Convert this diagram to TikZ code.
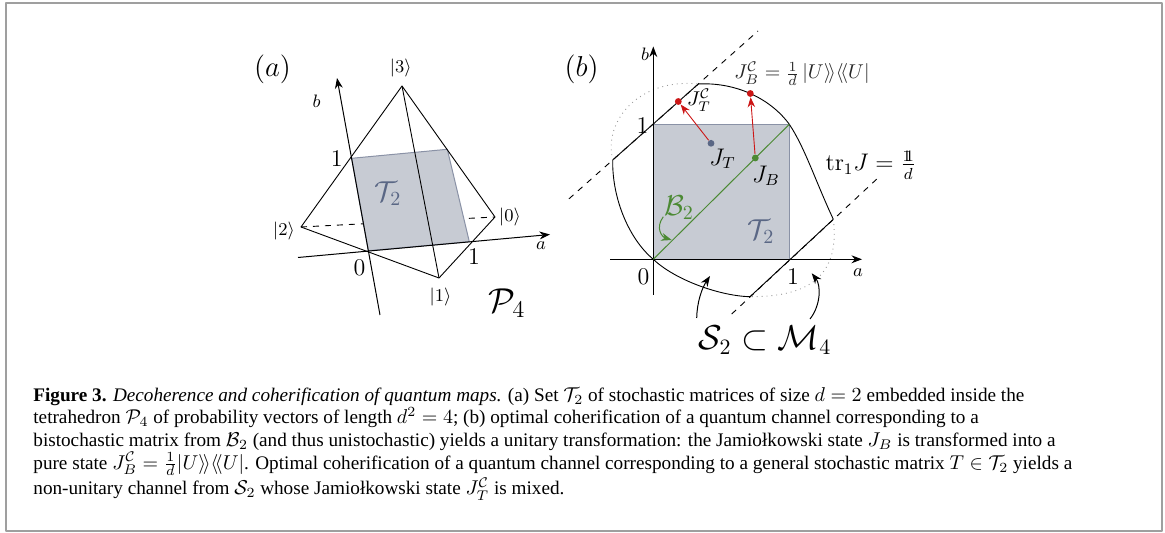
\documentclass[tikz,border=0pt]{standalone}
\usepackage{amsmath,amssymb}
\usepackage{fontspec}
\newfontfamily\capfont{Liberation Serif}
\usepackage{tikz}
\usetikzlibrary{arrows.meta}
\definecolor{sqfill}{HTML}{C7CBD3}
\definecolor{sqedge}{HTML}{8A92A6}
\definecolor{slate}{HTML}{5A6785}
\definecolor{leaf}{HTML}{4C8A34}
\definecolor{cherry}{HTML}{CC1616}
\newcommand{\idty}{\mathrm{1\!\!1}}

\begin{document}
\begin{tikzpicture}[x=0.5pt,y=-0.5pt,>=Stealth,line join=round,
  thinline/.style={line width=0.45pt},
  axisline/.style={->,line width=0.5pt},
  dotnode/.style={circle,fill=#1,inner sep=0pt,minimum size=3.4pt},
  ket/.style={font=\small,inner sep=1pt},
  num/.style={font=\large,inner sep=1pt}]
  \useasboundingbox (0,0) rectangle (1165,533);
  \draw[gray!75,line width=1pt] (6,3.5) rectangle (1162,531);
  \coordinate (V3) at (402,86);
  \coordinate (V2) at (301,227);
  \coordinate (V1) at (439,278);
  \coordinate (V0) at (495,217);
  \coordinate (SA) at (368.3,250.7);
  \coordinate (SB) at (469.3,241.7);
  \coordinate (SC) at (447.3,149.3);
  \coordinate (SD) at (351.7,158.3);
  \draw[thinline,dashed] (V2) -- (V0);
  \draw[sqedge,fill=sqfill,line width=0.5pt] (SA) -- (SB) -- (SC) -- (SD) -- cycle;
  \draw[thinline] (V2) -- (V3) -- (V0) -- (V1) -- cycle;
  \draw[thinline] (V3) -- (V1);
  \draw[axisline] (380,315) -- (337,78);
  \draw[axisline] (298,257.5) -- (550,234.5);
  \node[font=\Large] (tagA) at (272.5,69.5) {$(a)$};
  \node[ket] (k3) at (400.7,67.7) {$|3\rangle$};
  \node[ket] (k2) at (284,231) {$|2\rangle$};
  \node[ket] (k1) at (440.5,297.3) {$|1\rangle$};
  \node[ket] (k0) at (510,217) {$|0\rangle$};
  \node[font=\small] (axb) at (316.7,101) {$b$};
  \node[font=\small] (axa) at (541,246) {$a$};
  \node[num] (oneb) at (336.7,159) {$1$};
  \node[num] (zeroA) at (359.5,267.5) {$0$};
  \node[num] (onea) at (474,256.7) {$1$};
  \node[slate,font=\Large] (TA) at (388,194) {$\mathcal{T}_2$};
  \node[font=\LARGE] (PA) at (507,303) {$\mathcal{P}_4$};
  \coordinate (O) at (653.3,259.3);
  \coordinate (Q) at (789.3,124.3);
  \fill[sqfill] (O) rectangle (Q);
  \draw[sqedge,line width=0.3pt] (O) rectangle (Q);
  \coordinate (P1) at (612.7,160);
  \coordinate (P2) at (698.3,84);
  \coordinate (P3) at (750,296.7);
  \coordinate (P4) at (833.3,219.3);
  \draw[thinline,dashed] (569,198.8) -- (758,31);
  \draw[thinline,dashed] (731.7,314) -- (879,177);
  \draw[thinline] (P1) -- (P2);
  \draw[thinline] (P3) -- (P4);
  \draw[thinline,gray!80,dotted] (P1) .. controls (603,120) and (640,78) .. (P2);
  \draw[thinline,gray!80,dotted] (P4) .. controls (840,275) and (810,297) .. (P3);
  \draw[thinline] (P1) .. controls (612,200) and (630,240) .. (O) .. controls (675,280) and (720,296) .. (P3);
  \draw[thinline] (P2) .. controls (735,82) and (770,98) .. (Q) .. controls (805,148) and (815,180) .. (P4);
  \draw[axisline] (653.3,295) -- (653.3,46.5);
  \draw[axisline] (610,259.3) -- (862,259.3);
  \draw[leaf,line width=0.5pt] (O) -- (Q);
  \node[dotnode=slate] (JT) at (711,143.3) {};
  \node[dotnode=leaf] (JB) at (755.3,158) {};
  \node[dotnode=cherry] (JTC) at (678.3,101.5) {};
  \node[dotnode=cherry] (JBC) at (750.3,93.5) {};
  \draw[->,cherry,line width=0.45pt] (JT) -- (JTC);
  \draw[->,cherry,line width=0.45pt] (JB) -- (JBC);
  \node[font=\Large] (tagB) at (581.7,69) {$(b)$};
  \node[font=\small] (axbB) at (645,54) {$b$};
  \node[font=\small] (axaB) at (858,273) {$a$};
  \node[num] (zeroB) at (643.5,276.7) {$0$};
  \node[num] (onebB) at (642.5,126) {$1$};
  \node[num] (oneaB) at (793,276.7) {$1$};
  \node[font=\large] (JTlbl) at (722.5,159) {$J_T$};
  \node[font=\large] (JBlbl) at (766,176) {$J_B$};
  \node[inner sep=0pt] (JTClbl) at (699,100) {$J_T^{\mathcal{C}}$};
  \node[black!85,inner sep=0pt] (JBClbl) at (802,74) {$J_B^{\mathcal{C}} = \frac{1}{d}\,|U\rangle\!\rangle\langle\!\langle U|$};
  \node[font=\large,inner sep=0pt] (trlbl) at (871,165) {$\mathrm{tr}_1 J = \frac{\idty}{d}$};
  \node[leaf,font=\Large] (B2) at (679,207.5) {$\mathcal{B}_2$};
  \draw[->,leaf,line width=0.5pt] (663.3,216.7) .. controls (655,228) and (662,237) .. (671.7,240);
  \node[slate,font=\Large] (TB) at (761,231.7) {$\mathcal{T}_2$};
  \node[font=\fontsize{16}{18}\selectfont] (SM) at (765,340) {$\mathcal{S}_2\subset\mathcal{M}_4$};
  \draw[->,line width=0.5pt] (696.7,318) .. controls (697,302) and (702,288) .. (710,276);
  \draw[->,line width=0.5pt] (810,319) .. controls (821,305) and (821,285) .. (811.7,273.3);
  \node[anchor=north west,align=left,inner sep=0pt,font=\capfont\fontsize{9.6}{11.3}\selectfont] (caption) at (33,387) {%
{\bfseries Figure 3.} {\itshape Decoherence and coherification of quantum maps.} (a) Set $\mathcal{T}_2$ of stochastic matrices of size $d=2$ embedded inside the\\
tetrahedron $\mathcal{P}_4$ of probability vectors of length $d^2=4$; (b) optimal coherification of a quantum channel corresponding to a\\
bistochastic matrix from $\mathcal{B}_2$ (and thus unistochastic) yields a unitary transformation: the Jamiołkowski state $J_B$ is transformed into a\\
pure state $J_B^{\mathcal{C}}=\frac{1}{d}|U\rangle\!\rangle\langle\!\langle U|$. Optimal coherification of a quantum channel corresponding to a general stochastic matrix $T\in\mathcal{T}_2$ yields a\\
non-unitary channel from $\mathcal{S}_2$ whose Jamiołkowski state $J_T^{\mathcal{C}}$ is mixed.};
\end{tikzpicture}
\end{document}
